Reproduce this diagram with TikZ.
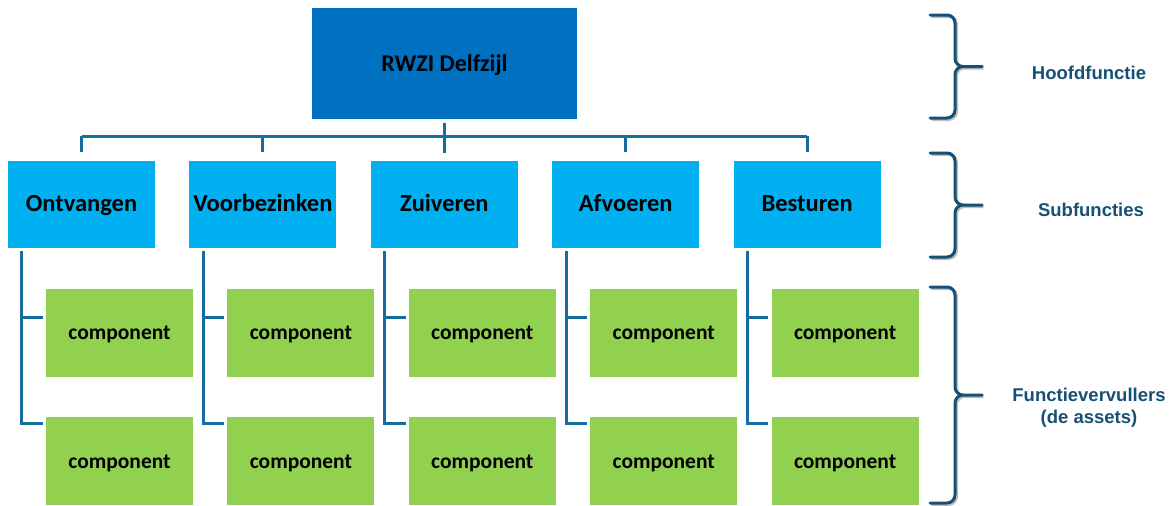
\documentclass[tikz,border=0pt]{standalone}
\usepackage{fontspec}
\setmainfont{Carlito}
\newfontfamily\labelfont{Liberation Sans}
\definecolor{hoofdblauw}{RGB}{0,112,192}
\definecolor{subblauw}{RGB}{0,176,240}
\definecolor{compgroen}{RGB}{146,208,80}
\definecolor{lijnblauw}{RGB}{22,110,158}
\definecolor{accolade}{RGB}{22,80,116}

\begin{document}
\begin{tikzpicture}
  [x=1pt,y=-1pt,
   hoofdN/.style={rectangle,fill=hoofdblauw,minimum width=265pt,minimum height=111pt,inner sep=0pt,text height=18pt,text depth=3pt,font=\fontsize{24}{28}\selectfont\bfseries},
   subN/.style={rectangle,fill=subblauw,minimum width=147pt,minimum height=87pt,inner sep=0pt,text height=17pt,text depth=4pt,font=\fontsize{24.5}{28}\selectfont\bfseries},
   compN/.style={rectangle,fill=compgroen,minimum width=147pt,minimum height=88pt,inner sep=0pt,text height=16pt,text depth=2pt,font=\fontsize{21.5}{25}\selectfont\bfseries},
   verbinding/.style={draw=lijnblauw,line width=3pt},
   accoladeL/.style={draw=accolade,line width=3pt,line cap=round,
     preaction={draw=black!25,line width=3pt,transform canvas={shift={(1.5pt,-1.5pt)}}}},
   labelN/.style={text=accolade,font=\labelfont\fontsize{18.5}{22}\selectfont\bfseries,align=center}
  ]

  \useasboundingbox (0,0) rectangle (1173,506);

  \node[hoofdN] (hoofd) at (444.5,63.5) {RWZI Delfzijl};

  \foreach \i/\naam in {1/Ontvangen,2/Voorbezinken,3/Zuiveren,4/Afvoeren,5/Besturen} {
     \pgfmathsetmacro\cx{81.5+181.4*(\i-1)}
     \node[subN] (sub\i) at (\cx,204.5) {\naam};
     \node[compN] (compa\i) at ({\cx+38},332.5) {component};
     \node[compN] (compb\i) at ({\cx+38},461) {component};
  }

  % boom
  \coordinate (balk) at (0,136);
  \draw[verbinding] ([yshift=-4pt]hoofd.south) -- ([yshift=-34pt]hoofd.south);
  \draw[verbinding] (sub1.north |- balk) -- (sub5.north |- balk);
  \foreach \i in {1,...,5} {
      \draw[verbinding] (sub\i.north |- balk) -- ([yshift=9pt]sub\i.north);
      \draw[verbinding] ([xshift=14pt,yshift=-3pt]sub\i.south west) |- ([xshift=-3pt,yshift=-7pt]compb\i.north west);
      \draw[verbinding] ([xshift=-3pt,yshift=-29pt]compa\i.north west) -| ([xshift=14pt,yshift=-3pt]sub\i.south west);
  }

  % accolades
  \foreach \boven/\onder/\j in {15/118/1,153/257/2,287/503/3} {
     \pgfmathsetmacro\midden{(\boven+\onder)/2}
     \draw[accoladeL] (930,\boven) -- (947,\boven) to[out=0,in=90] (955,\boven+8)
        -- (955,\midden-8) to[out=-90,in=180] (963,\midden) -- (982,\midden)
        (963,\midden) to[out=180,in=90] (955,\midden+8)
        -- (955,\onder-8) to[out=-90,in=0] (947,\onder) -- (930,\onder);
     \coordinate (punt\j) at (982,\midden);
  }

  \node[labelN] (lbl1) at ([xshift=107pt,yshift=-6pt]punt1) {Hoofdfunctie};
  \node[labelN] (lbl2) at ([xshift=109pt,yshift=-5pt]punt2) {Subfuncties};
  \node[labelN] (lbl3) at ([xshift=107pt,yshift=-13pt]punt3) {Functievervullers\\(de assets)};

\end{tikzpicture}
\end{document}
